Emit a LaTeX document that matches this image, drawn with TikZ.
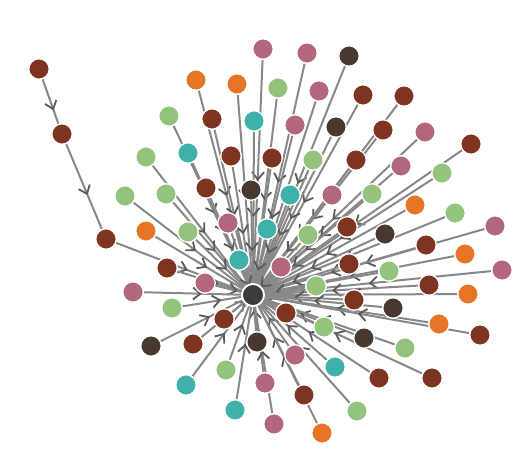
\documentclass[tikz,border=0pt]{standalone}
\usetikzlibrary{decorations.markings,backgrounds}
\definecolor{cbrown}{HTML}{7F3421}
\definecolor{corange}{HTML}{E67626}
\definecolor{cgreen}{HTML}{93C47D}
\definecolor{cteal}{HTML}{3EB2AA}
\definecolor{cpink}{HTML}{B2677B}
\definecolor{cdark}{HTML}{48382F}
\definecolor{ccenter}{HTML}{3C3C3C}
\definecolor{cedge}{HTML}{888888}
\definecolor{carrow}{HTML}{5A5A5A}
\tikzset{
  nd/.style={circle,draw=white,line width=1.3pt,minimum size=20.5pt,inner sep=0pt},
  hub/.style={nd,minimum size=22pt,line width=1.8pt},
  edge/.style={draw=cedge,line width=2pt,
    postaction={decorate,decoration={markings,
      mark=at position 0.5 with {\draw[carrow,line width=1.8pt,line join=miter] (0.5pt,6pt) -- (8pt,0pt) -- (0.5pt,-6pt);}}}}
}
\begin{document}
\begin{tikzpicture}[x=1pt,y=-1pt]
\useasboundingbox (0,0) rectangle (525,461);
\node[hub,fill=ccenter] (c) at (253,295) {};
\foreach \n/\c/\x/\y in {
 b1/cbrown/39/69, b2/cbrown/62/134, b3/cbrown/106/239,
 n1/cpink/263/49, n2/cpink/307/53, n3/cdark/349/56, n4/corange/196/80,
 n5/corange/237/84, n6/cgreen/278/88, n7/cpink/319/91, n8/cbrown/363/95,
 n9/cbrown/404/96, n10/cgreen/169/116, n11/cbrown/212/119, n12/cteal/254/121,
 n13/cpink/295/125, n14/cdark/336/127, n15/cbrown/383/130, n16/cpink/425/132,
 n17/cbrown/471/144, n18/cteal/188/153, n19/cbrown/231/156, n20/cgreen/146/157,
 n21/cbrown/272/158, n22/cgreen/313/160, n23/cbrown/356/160, n24/cpink/401/166,
 n25/cgreen/442/173, n26/cbrown/206/188, n27/cdark/251/190, n28/cgreen/125/196,
 n29/cgreen/166/194, n30/cteal/290/195, n31/cpink/332/195, n32/cgreen/372/194,
 n33/corange/415/205, n34/cgreen/455/213, n35/cpink/495/226, n36/cpink/228/223,
 n37/corange/146/231, n38/cgreen/188/232, n39/cteal/267/229, n40/cgreen/308/235,
 n41/cbrown/347/227, n42/cdark/385/234, n43/cbrown/426/245, n44/corange/465/254,
 n45/cteal/239/260, n46/cbrown/167/268, n47/cpink/281/267, n48/cbrown/349/264,
 n49/cgreen/389/271, n50/cpink/502/270, n51/cpink/205/283, n52/cpink/133/292,
 n53/cgreen/316/286, n54/cbrown/429/285, n55/corange/468/294, n56/cbrown/354/300,
 n57/cdark/393/308, n58/cgreen/172/308, n59/cbrown/286/313, n60/cbrown/224/319,
 n61/corange/439/324, n62/cbrown/480/335, n63/cgreen/324/327, n64/cdark/364/338,
 n65/cgreen/405/348, n66/cdark/151/346, n67/cbrown/193/344, n68/cdark/257/342,
 n69/cpink/295/355, n70/cteal/335/367, n71/cgreen/226/370, n72/cteal/186/385,
 n73/cpink/265/383, n74/cbrown/379/378, n75/cbrown/432/378, n76/cbrown/304/395,
 n77/cgreen/357/411, n78/cteal/235/410, n79/cpink/274/424, n80/corange/322/433}
 {\node[nd,fill=\c] (\n) at (\x,\y) {};}
\begin{pgfonlayer}{background}
\draw[edge] (b1) -- (b2);
\draw[edge] (b2) -- (b3);
\draw[edge] (b3) -- (c);
\foreach \i in {1,...,80} {\draw[edge] (n\i) -- (c);}
\end{pgfonlayer}
\end{tikzpicture}
\end{document}
